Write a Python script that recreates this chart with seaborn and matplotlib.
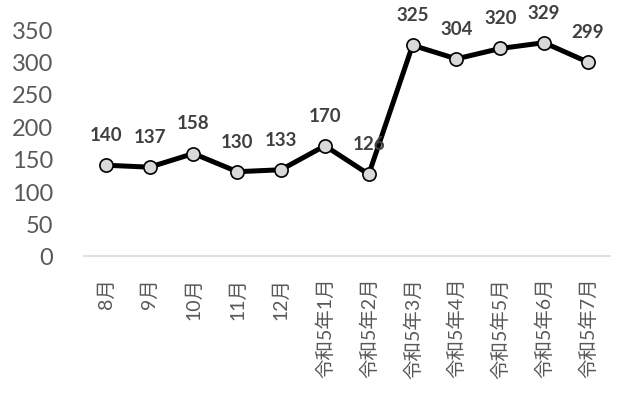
import matplotlib
matplotlib.use("Agg")
import matplotlib.pyplot as plt
import seaborn as sns
import pandas as pd

# data
months = ["8月", "9月", "10月", "11月", "12月",
          "令和5年1月", "令和5年2月", "令和5年3月", "令和5年4月",
          "令和5年5月", "令和5年6月", "令和5年7月"]
counts = [140, 137, 158, 130, 133, 170, 126, 325, 304, 320, 329, 299]
y_ticks = [0, 50, 100, 150, 200, 250, 300, 350]

sns.set_style("white")
plt.rcParams['font.family'] = ['Lato', 'Noto Sans CJK JP', 'DejaVu Sans']

df = pd.DataFrame({"month": months, "count": counts})
df["pos"] = range(len(df))

fig = plt.figure(figsize=(6.21, 4.06), dpi=100)
ax = fig.add_axes([0.135, 0.367, 0.847, 0.559])

sns.lineplot(data=df, x="pos", y="count", ax=ax, color="black", linewidth=3.6,
             marker="o", markersize=9.5, markerfacecolor="#d9d9d9",
             markeredgecolor="black", markeredgewidth=1.2)

for x, y in zip(df["pos"], df["count"]):
    ax.annotate(str(y), (x, y), xytext=(0, 22), textcoords="offset points",
                ha="center", va="center", fontsize=13.5, fontweight="bold",
                color="#404040", annotation_clip=False)

ax.set_xlim(-0.5, len(months) - 0.5)
ax.set_ylim(0, 350)
ax.set_yticks(y_ticks)
ax.set_yticklabels([str(t) for t in y_ticks], fontsize=17, color="#595959")
ax.set_xticks(df["pos"])
ax.set_xticklabels(months, rotation=90, fontsize=14, color="#595959")
ax.tick_params(axis="both", length=0)
ax.tick_params(axis="x", pad=15)
ax.tick_params(axis="y", pad=22)
ax.set_xlabel("")
ax.set_ylabel("")

for side in ["top", "right", "left"]:
    ax.spines[side].set_visible(False)
ax.spines["bottom"].set_color("#d9d9d9")
ax.spines["bottom"].set_linewidth(1.2)

fig.savefig("out.png", dpi=100)
